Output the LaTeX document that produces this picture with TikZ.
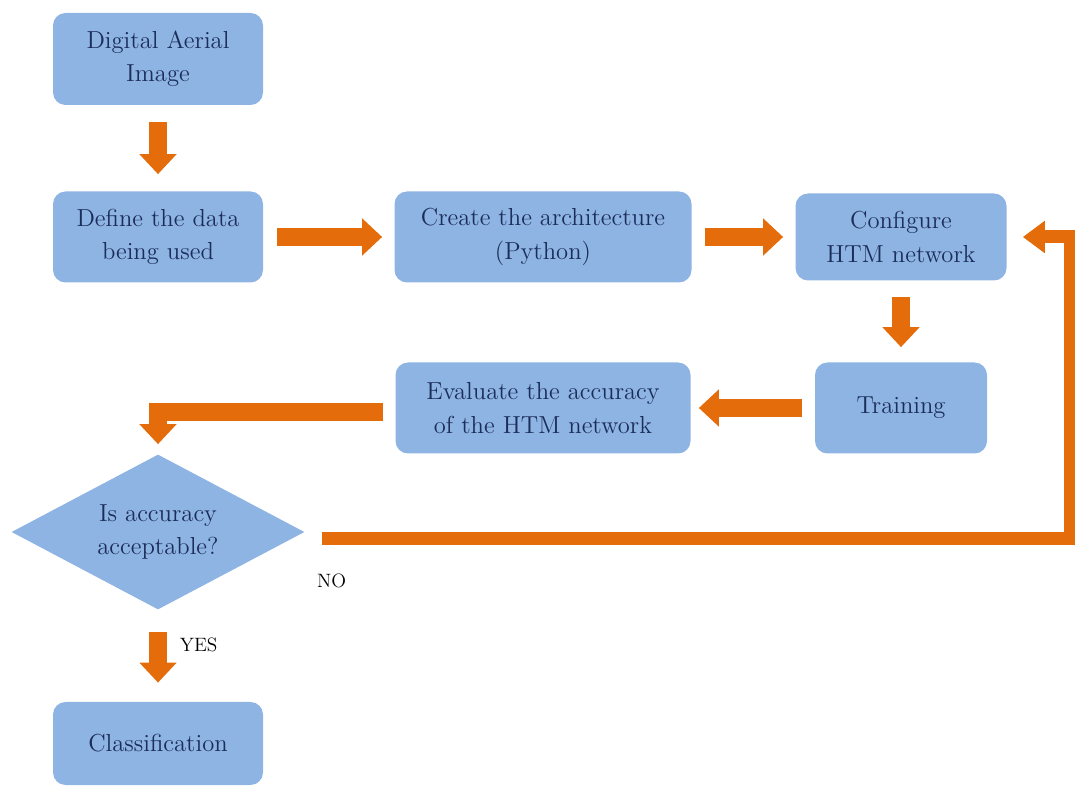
\documentclass[tikz,border=0pt]{standalone}
\usetikzlibrary{shapes,arrows.meta,positioning}
\definecolor{boxblue}{RGB}{142,180,227}
\definecolor{flow}{RGB}{228,108,10}
\definecolor{ink}{RGB}{27,45,90}

\begin{document}
\begin{tikzpicture}[scale=1,
		box/.style={fill=boxblue, rounded corners=0.25cm, text=ink, align=center, inner sep=0pt, font=\fontsize{14}{19}\selectfont},
		ask/.style={diamond, fill=boxblue, text=ink, align=center, inner sep=0pt, shape aspect=1.9, font=\fontsize{14}{19}\selectfont},
		flowarr/.style={draw=flow, line width=0.36cm, -{Triangle[width=0.72cm,length=0.4cm]}},
		loopback/.style={draw=flow, line width=0.26cm, -{Triangle[width=0.62cm,length=0.44cm]}},
		tag/.style={font=\fontsize{11}{13}\selectfont}]
			\useasboundingbox (0,0) rectangle (21.5,-15.8);
			\node[box, minimum width=4.2cm, minimum height=1.84cm] (img) at (3.16,-1.18) {Digital Aerial\\Image};
			\node[box, minimum width=4.2cm, minimum height=1.82cm] (data) at (3.16,-4.74) {Define the data\\being used};
			\node[box, minimum width=5.94cm, minimum height=1.82cm] (arch) at (10.86,-4.74) {Create the architecture\\(Python)};
			\node[box, minimum width=4.22cm, minimum height=1.74cm] (conf) at (18.02,-4.74) {Configure\\HTM network};
			\node[box, minimum width=3.44cm, minimum height=1.82cm] (train) at (18.02,-8.16) {Training};
			\node[box, minimum width=5.9cm, minimum height=1.82cm] (eval) at (10.86,-8.16) {Evaluate the accuracy\\of the HTM network};
			\node[ask, minimum width=5.86cm, minimum height=3.1cm] (dec) at (3.16,-10.64) {Is accuracy\\acceptable?};
			\node[box, minimum width=4.2cm, minimum height=1.66cm] (cls) at (3.16,-14.87) {Classification};
			\coordinate (ret) at (21.4,-4.74);
			\draw[flowarr, shorten <=0.34cm, shorten >=0.34cm] (img) -- (data);
			\draw[flowarr, shorten <=0.28cm, shorten >=0.24cm] (data) -- (arch);
			\draw[flowarr, shorten <=0.26cm, shorten >=0.24cm] (arch) -- (conf);
			\draw[flowarr, shorten <=0.32cm, shorten >=0.3cm] (conf) -- (train);
			\draw[flowarr, shorten <=0.26cm, shorten >=0.16cm] (train) -- (eval);
			\draw[flowarr, shorten <=0.24cm, shorten >=0.2cm] ([yshift=-0.08cm]eval.west) -| (dec.north);
			\draw[loopback, shorten <=0.34cm, shorten >=0.32cm] ([yshift=-0.14cm]dec.east) node[tag, below right=0.45cm and 0cm] {NO} -| (ret) -- (conf.east);
			\draw[flowarr, shorten <=0.44cm, shorten >=0.38cm] (dec.south) -- node[tag, pos=0.38, right=0.14cm] {YES} (cls.north);
		\end{tikzpicture}
\end{document}
